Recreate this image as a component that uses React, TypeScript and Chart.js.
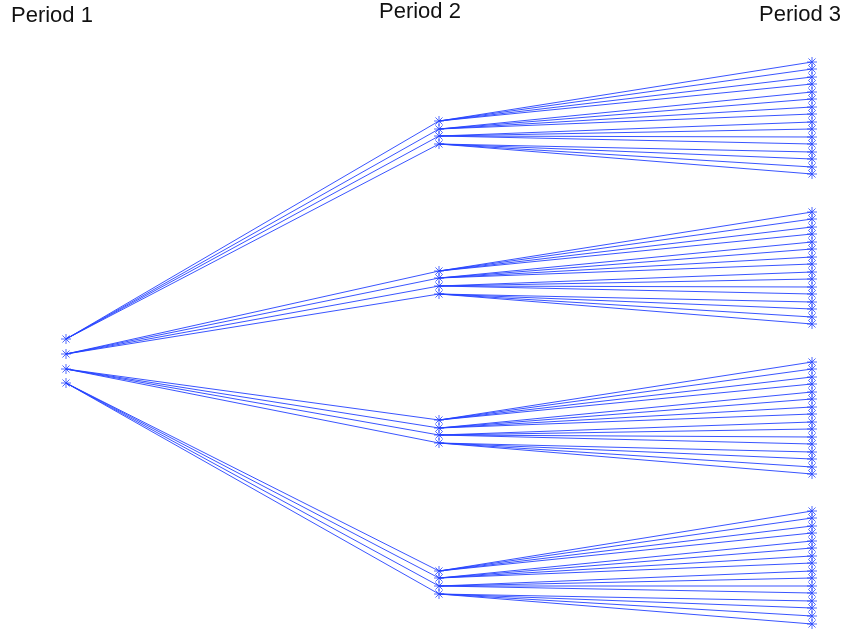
import { useEffect, useRef } from "react";
import { Chart, registerables } from "chart.js";

Chart.register(...registerables);

// ---- data ----
const periodLabels = ["Period 1", "Period 2", "Period 3"];
const periodX = [1, 2, 3];
const period1Values = [339, 354, 369, 383];
const period2Values = [
  121, 129, 136, 144,
  271, 278, 286, 294,
  420, 428, 435, 443,
  571, 578, 586, 594,
];
const period3Values = [
  62, 69, 77, 84, 92, 99, 107, 114, 122, 129, 137, 144, 152, 159, 167, 174,
  212, 219, 227, 234, 242, 249, 257, 264, 272, 279, 287, 294, 302, 309, 317, 324,
  362, 369, 377, 384, 392, 399, 407, 414, 422, 429, 437, 444, 452, 459, 467, 474,
  511, 518, 526, 533, 541, 548, 556, 563, 571, 578, 586, 593, 601, 608, 616, 624,
];
const branching = 4;

const LINE = "rgba(35,65,255,0.9)";
const MARK = "rgba(50,80,255,0.85)";

function buildEdges() {
  const pts: any[] = [];
  period2Values.forEach((v, j) => {
    const parent = period1Values[Math.floor(j / branching)];
    pts.push({ x: periodX[0], y: parent }, { x: periodX[1], y: v }, { x: 1.5, y: null });
  });
  period3Values.forEach((v, k) => {
    const parent = period2Values[Math.floor(k / branching)];
    pts.push({ x: periodX[1], y: parent }, { x: periodX[2], y: v }, { x: 2.5, y: null });
  });
  return pts;
}

const labelPlugin = {
  id: "periodLabels",
  afterDraw(chart: any) {
    const ctx = chart.ctx;
    ctx.save();
    ctx.fillStyle = "#111";
    ctx.font = '22px "Liberation Sans", Arial, sans-serif';
    ctx.textBaseline = "alphabetic";
    const pos = [
      { x: 11, y: 22, align: "left" },
      { x: 379, y: 18, align: "left" },
      { x: 841, y: 21, align: "right" },
    ];
    periodLabels.forEach((t, i) => {
      ctx.textAlign = pos[i].align;
      ctx.fillText(t, pos[i].x, pos[i].y);
    });
    ctx.restore();
  },
};

export default function App() {
  const ref = useRef<HTMLCanvasElement>(null);
  useEffect(() => {
    if (!ref.current) return;
    const markerSet = (vals: number[], x: number) => ({
      type: "scatter" as const,
      data: vals.map((v) => ({ x, y: v })),
      pointStyle: "star",
      pointRadius: 5,
      pointBorderWidth: 1,
      pointBorderColor: MARK,
      pointBackgroundColor: MARK,
      showLine: false,
      clip: false as any,
    });
    const chart = new Chart(ref.current, {
      type: "line",
      data: {
        datasets: [
          {
            type: "line",
            data: buildEdges(),
            borderColor: LINE,
            borderWidth: 1,
            pointRadius: 0,
            spanGaps: false,
            fill: false,
            tension: 0,
          } as any,
          markerSet(period1Values, periodX[0]),
          markerSet(period2Values, periodX[1]),
          markerSet(period3Values, periodX[2]),
        ],
      },
      options: {
        animation: false,
        responsive: false,
        maintainAspectRatio: false,
        layout: { padding: 0, autoPadding: false },
        plugins: { legend: { display: false }, tooltip: { enabled: false } },
        scales: {
          x: { type: "linear", min: 1 - 66 / 373, max: 3 + 34 / 373, display: false },
          y: { type: "linear", min: 0, max: 633, reverse: true, display: false },
        },
      },
      plugins: [labelPlugin],
    });
    return () => chart.destroy();
  }, []);
  return (
    <div style={{ position: "fixed", left: 0, top: 0, width: 846, height: 633, background: "#fff" }}>
      <canvas ref={ref} width={846} height={633} style={{ width: 846, height: 633 }} />
    </div>
  );
}
